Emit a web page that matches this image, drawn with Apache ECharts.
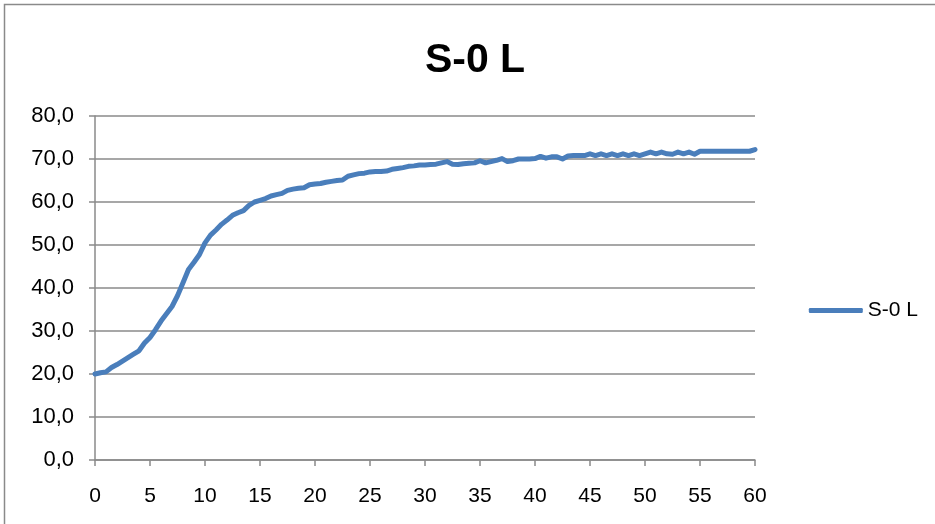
<!DOCTYPE html>
<html><head><meta charset="utf-8">
<script src="https://cdn.jsdelivr.net/npm/echarts@6/dist/echarts.min.js"></script>
<style>html,body{margin:0;padding:0;background:#fff}#c{width:935px;height:524px}</style>
</head><body><div id="c"></div>
<script>
const titleText = 'S-0 L';
const seriesName = 'S-0 L';
const xTicks = [0,5,10,15,20,25,30,35,40,45,50,55,60];
const yTicks = [0,10,20,30,40,50,60,70,80];
const minutes = [];
for (let i = 0; i <= 120; i++) minutes.push(i / 2);
const values = [
 20.0,20.3,20.5,21.5,22.2,23.0,23.8,24.6,25.4,27.2,
 28.5,30.3,32.3,34.0,35.7,38.2,41.2,44.3,46.0,47.8,
 50.5,52.3,53.5,54.8,55.8,56.9,57.5,58.0,59.2,60.0,
 60.4,60.8,61.4,61.7,62.0,62.7,63.0,63.2,63.3,64.0,
 64.2,64.3,64.6,64.8,65.0,65.1,66.0,66.3,66.6,66.7,
 67.0,67.1,67.1,67.2,67.6,67.8,68.0,68.3,68.4,68.6,
 68.6,68.7,68.8,69.1,69.4,68.8,68.7,68.9,69.0,69.1,
 69.6,69.1,69.4,69.7,70.1,69.4,69.6,70.0,70.0,70.0,
 70.1,70.6,70.2,70.5,70.5,70.0,70.7,70.8,70.8,70.8,
 71.2,70.8,71.2,70.8,71.2,70.8,71.2,70.8,71.2,70.8,
 71.2,71.6,71.2,71.6,71.2,71.1,71.6,71.2,71.6,71.1,
 71.8,71.8,71.8,71.8,71.8,71.8,71.8,71.8,71.8,71.8,
 72.2
];
const data = minutes.map((m, i) => [m, values[i]]);
const font = 'Liberation Sans, Arial, sans-serif';
const chart = echarts.init(document.getElementById('c'));
chart.setOption({
  animation: false,
  backgroundColor: '#fff',
  graphic: [{type:'rect', shape:{x:4.5,y:4.5,width:2000,height:2000}, style:{fill:'none', stroke:'#8a8a8a', lineWidth:1.5}, silent:true, z:-1}],
  title: {text: titleText, left: 470, top: 35, textAlign: 'center',
    textStyle: {fontFamily: font, fontSize: 41, fontWeight: 'bold', color: '#000'}},
  legend: {right: 12, top: 295, itemWidth: 54, itemHeight: 5, itemGap: 6,
    textStyle: {fontFamily: font, fontSize: 21, color: '#000'},
    data: [{name: seriesName, icon: 'roundRect'}]},
  grid: {left: 95, right: 180, top: 116, bottom: 64, containLabel: false},
  xAxis: {type: 'value', min: xTicks[0], max: xTicks[xTicks.length-1], interval: 5,
    axisLine: {lineStyle: {color: '#8a8a8a', width: 1.5}},
    axisTick: {show: true, length: 6, lineStyle: {color: '#8a8a8a', width: 1.5}},
    axisLabel: {fontFamily: font, fontSize: 21, color: '#000', margin: 26},
    splitLine: {show: false}},
  yAxis: {type: 'value', min: yTicks[0], max: yTicks[yTicks.length-1], interval: 10,
    axisLine: {show: true, lineStyle: {color: '#8a8a8a', width: 1.5}},
    axisTick: {show: true, length: 6, lineStyle: {color: '#8a8a8a', width: 1.5}},
    axisLabel: {fontFamily: font, fontSize: 22, color: '#000', margin: 21,
      formatter: v => v.toFixed(1).replace('.', ',')},
    splitLine: {lineStyle: {color: '#8a8a8a', width: 1.5}}},
  series: [{name: seriesName, type: 'line', data: data, showSymbol: false,
    lineStyle: {color: '#4a7ebb', width: 5, cap: 'round', join: 'round'},
    itemStyle: {color: '#4a7ebb'}}]
});
</script></body></html>
